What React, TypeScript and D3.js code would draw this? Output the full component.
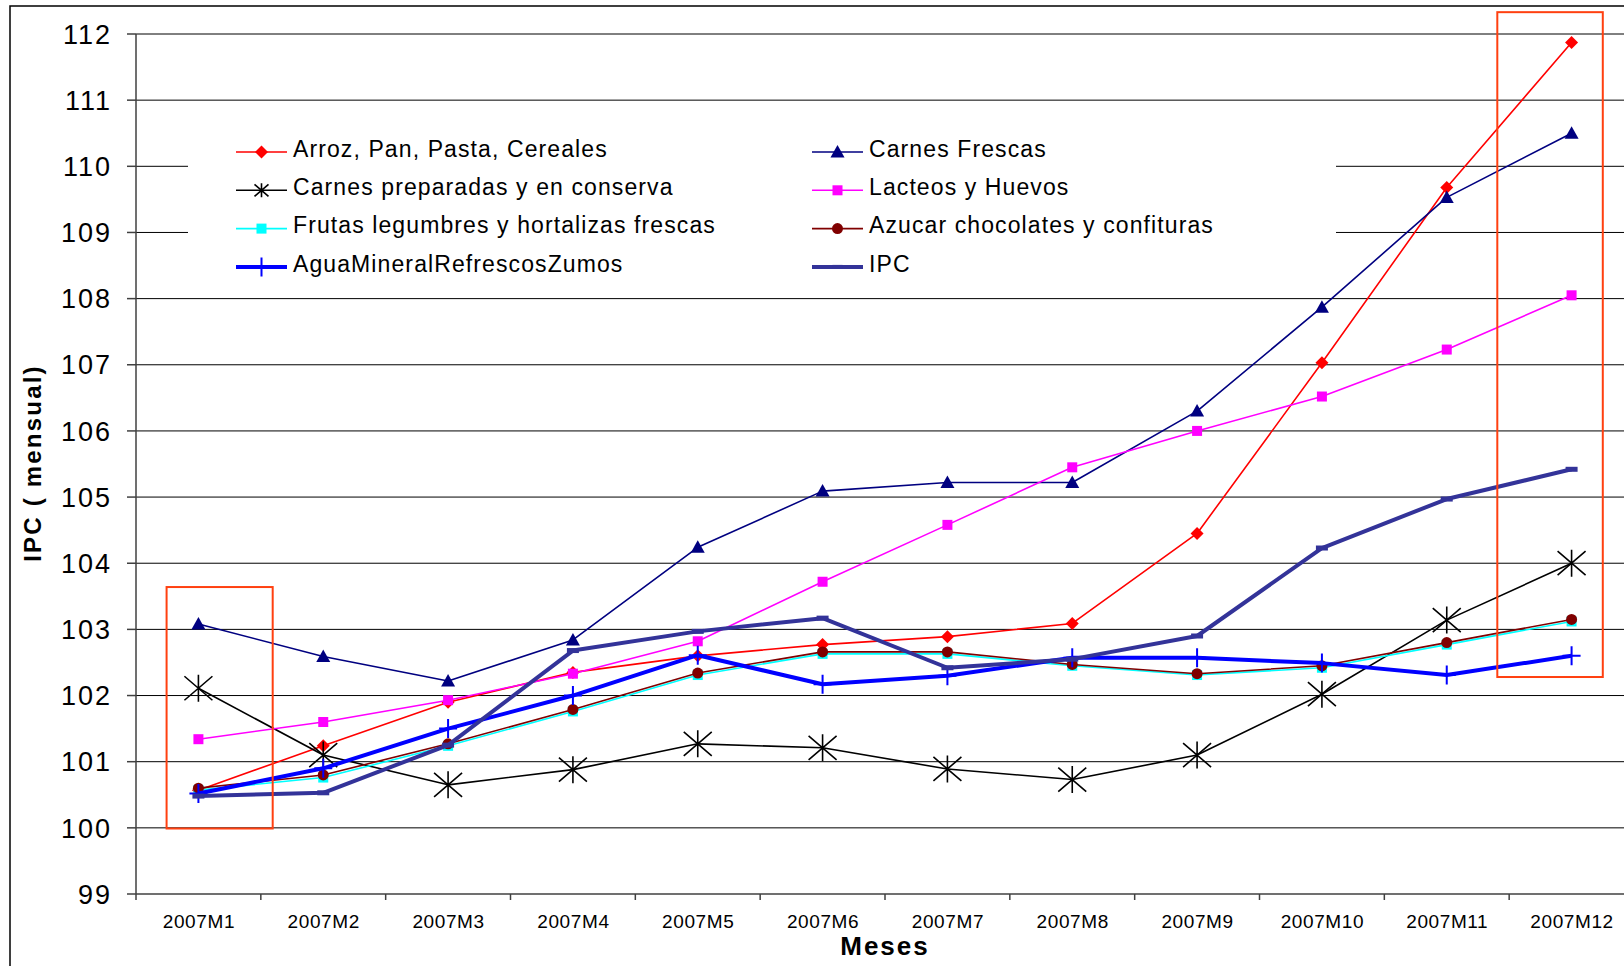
import React, { useEffect, useRef } from 'react'
import * as d3 from 'd3';

const WIDTH = 1624;
const HEIGHT = 966;
// plot area (the right edge runs past the picture, as in the original)
const PLOT = { left: 136, right: 1634, top: 34, bottom: 894 };
const FONT = "'Liberation Sans', Arial, sans-serif";

const months = ['2007M1', '2007M2', '2007M3', '2007M4', '2007M5', '2007M6',
  '2007M7', '2007M8', '2007M9', '2007M10', '2007M11', '2007M12'];
const yTicks = [99, 100, 101, 102, 103, 104, 105, 106, 107, 108, 109, 110, 111, 112];

const arroz = [100.57, 101.24, 101.9, 102.35, 102.6, 102.77, 102.89, 103.09, 104.45, 107.03, 109.68, 111.87];
const carnesFrescas = [103.08, 102.59, 102.22, 102.84, 104.24, 105.09, 105.22, 105.22, 106.3, 107.87, 109.53, 110.5];
const carnesPreparadas = [102.11, 101.1, 100.65, 100.88, 101.27, 101.21, 100.89, 100.73, 101.1, 102.02, 103.14, 104.0];
const lacteos = [101.34, 101.6, 101.93, 102.33, 102.82, 103.72, 104.58, 105.45, 106.0, 106.52, 107.23, 108.05];
const frutas = [100.57, 100.76, 101.24, 101.76, 102.31, 102.63, 102.63, 102.45, 102.31, 102.42, 102.77, 103.12];
const azucar = [100.6, 100.8, 101.27, 101.79, 102.34, 102.66, 102.66, 102.47, 102.33, 102.45, 102.8, 103.15];
const agua = [100.52, 100.9, 101.5, 102.0, 102.61, 102.17, 102.3, 102.57, 102.57, 102.49, 102.31, 102.6];
const ipc = [100.48, 100.53, 101.25, 102.68, 102.97, 103.17, 102.42, 102.55, 102.9, 104.23, 104.97, 105.42];

const series = [
  { name: 'Arroz, Pan, Pasta, Cereales', values: arroz, color: '#ff0000', width: 1.6, marker: 'diamond' },
  { name: 'Carnes Frescas', values: carnesFrescas, color: '#000080', width: 1.6, marker: 'triangle' },
  { name: 'Carnes preparadas y en conserva', values: carnesPreparadas, color: '#000000', width: 1.6, marker: 'asterisk' },
  { name: 'Lacteos y Huevos', values: lacteos, color: '#ff00ff', width: 1.6, marker: 'square' },
  { name: 'Frutas legumbres y hortalizas frescas', values: frutas, color: '#00ffff', width: 1.6, marker: 'square' },
  { name: 'Azucar chocolates y confituras', values: azucar, color: '#800000', width: 1.6, marker: 'circle' },
  { name: 'AguaMineralRefrescosZumos', values: agua, color: '#0000ff', width: 4, marker: 'plus' },
  { name: 'IPC', values: ipc, color: '#333399', width: 4, marker: 'dash' },
];

// draws one marker centred on 0,0 inside g
function drawMarker(g, type, color) {
  if (type === 'diamond') {
    g.append('path').attr('d', 'M0,-6.5L6.5,0L0,6.5L-6.5,0Z').attr('fill', color);
  } else if (type === 'triangle') {
    g.append('path').attr('d', 'M0,-7L7,5.5L-7,5.5Z').attr('fill', color);
  } else if (type === 'square') {
    g.append('rect').attr('x', -5).attr('y', -5).attr('width', 10).attr('height', 10).attr('fill', color);
  } else if (type === 'circle') {
    g.append('circle').attr('r', 5.5).attr('fill', color);
  } else if (type === 'asterisk') {
    g.append('path')
      .attr('d', 'M0,-13.5L0,13.5M-14,-12L14,12M-14,12L14,-12')
      .attr('stroke', color).attr('stroke-width', 1.6).attr('fill', 'none');
  } else if (type === 'plus') {
    g.append('path')
      .attr('d', 'M0,-9.5L0,9.5M-9,0L9,0')
      .attr('stroke', color).attr('stroke-width', 2).attr('fill', 'none');
  } else if (type === 'dash') {
    g.append('rect').attr('x', -6).attr('y', -2.5).attr('width', 12).attr('height', 5).attr('fill', color);
  }
}

const PriceChart = () => {
  const svgRef = useRef<SVGSVGElement>(null);

  useEffect(() => {
    const x = d3.scaleBand().domain(months).range([PLOT.left, PLOT.right]);
    const y = d3.scaleLinear().domain([99, 112]).range([PLOT.bottom, PLOT.top]);
    const bw = x.bandwidth();
    const cx = m => x(m) + bw / 2;

    const svg = d3.select(svgRef.current);
    svg.selectAll('*').remove();
    svg.style('font-family', FONT);

    // outer frame
    svg.append('rect')
      .attr('x', 10).attr('y', 6).attr('width', WIDTH).attr('height', HEIGHT)
      .attr('fill', 'none').attr('stroke', '#000').attr('stroke-width', 1.5);

    // gridlines
    svg.append('g')
      .selectAll('line')
      .data(yTicks.slice(1))
      .join('line')
        .attr('x1', PLOT.left).attr('x2', PLOT.right)
        .attr('y1', d => y(d)).attr('y2', d => y(d))
        .attr('stroke', '#000').attr('stroke-width', 1);

    // y axis
    const yAxis = svg.append('g');
    yAxis.append('line')
      .attr('x1', PLOT.left).attr('x2', PLOT.left)
      .attr('y1', PLOT.top).attr('y2', PLOT.bottom)
      .attr('stroke', '#404040').attr('stroke-width', 1.5);
    yAxis.selectAll('line.tick')
      .data(yTicks)
      .join('line')
        .attr('class', 'tick')
        .attr('x1', PLOT.left - 9).attr('x2', PLOT.left)
        .attr('y1', d => y(d)).attr('y2', d => y(d))
        .attr('stroke', '#404040').attr('stroke-width', 1.5);
    yAxis.selectAll('text')
      .data(yTicks)
      .join('text')
        .attr('x', 112).attr('y', d => y(d))
        .attr('dy', '0.36em')
        .attr('text-anchor', 'end')
        .style('font-size', '27px')
        .style('letter-spacing', '2px')
        .attr('fill', '#000')
        .text(d => d);

    // x axis
    const xAxis = svg.append('g');
    xAxis.append('line')
      .attr('x1', PLOT.left).attr('x2', PLOT.right)
      .attr('y1', PLOT.bottom).attr('y2', PLOT.bottom)
      .attr('stroke', '#404040').attr('stroke-width', 1.5);
    xAxis.selectAll('line.tick')
      .data(months)
      .join('line')
        .attr('class', 'tick')
        .attr('x1', d => x(d)).attr('x2', d => x(d))
        .attr('y1', PLOT.bottom).attr('y2', PLOT.bottom + 6)
        .attr('stroke', '#404040').attr('stroke-width', 1.5);
    xAxis.selectAll('text')
      .data(months)
      .join('text')
        .attr('x', d => cx(d) + 0.5).attr('y', 928)
        .attr('text-anchor', 'middle')
        .style('font-size', '19px')
        .style('letter-spacing', '0.6px')
        .attr('fill', '#000')
        .text(d => d);

    // axis titles
    svg.append('text')
      .attr('transform', 'translate(41,463) rotate(-90)')
      .attr('text-anchor', 'middle')
      .style('font-size', '24px').style('font-weight', 'bold')
      .style('letter-spacing', '2.2px')
      .text('IPC ( mensual)');
    svg.append('text')
      .attr('x', 885).attr('y', 955)
      .attr('text-anchor', 'middle')
      .style('font-size', '26px').style('font-weight', 'bold')
      .style('letter-spacing', '2px')
      .text('Meses');

    // legend box covers gridlines behind it
    const legend = svg.append('g');
    legend.append('rect')
      .attr('x', 188).attr('y', 112).attr('width', 1148).attr('height', 177)
      .attr('fill', '#fff');

    // series
    const line = d3.line<number>()
      .x((d, i) => cx(months[i]))
      .y(d => y(d));

    series.forEach(s => {
      const g = svg.append('g');
      g.append('path')
        .datum(s.values)
        .attr('d', line)
        .attr('fill', 'none')
        .attr('stroke', s.color)
        .attr('stroke-width', s.width)
        .attr('stroke-linejoin', 'round');
      s.values.forEach((v, i) => {
        drawMarker(g.append('g').attr('transform', `translate(${cx(months[i])},${y(v)})`), s.marker, s.color);
      });
    });

    // legend entries, two columns, row-wise
    series.forEach((s, i) => {
      const col = i % 2;
      const row = Math.floor(i / 2);
      const lx = col === 0 ? 236 : 812;
      const ly = 152 + row * 38.3;
      const item = legend.append('g').attr('transform', `translate(${lx},${ly})`);
      item.append('line')
        .attr('x1', 0).attr('x2', 51).attr('y1', 0).attr('y2', 0)
        .attr('stroke', s.color).attr('stroke-width', s.width);
      const mg = item.append('g').attr('transform', 'translate(25.5,0)');
      if (s.marker === 'asterisk') {
        mg.append('path')
          .attr('d', 'M0,-7L0,7M-7,-6L7,6M-7,6L7,-6')
          .attr('stroke', s.color).attr('stroke-width', 1.6);
      } else if (s.marker === 'dash') {
        mg.append('rect').attr('x', -5).attr('y', -2).attr('width', 10).attr('height', 4).attr('fill', s.color);
      } else {
        drawMarker(mg, s.marker, s.color);
      }
      item.append('text')
        .attr('x', 57).attr('y', 0).attr('dy', '0.2em')
        .style('font-size', '23px')
        .style('letter-spacing', '1.1px')
        .attr('fill', '#000')
        .text(s.name);
    });

    // highlight boxes
    const boxes = [
      { month: '2007M1', left: -0.255, right: 0.595, top: 103.64, bottom: 99.99 },
      { month: '2007M12', left: -0.595, right: 0.25, top: 112.33, bottom: 102.28 },
    ];
    svg.append('g')
      .selectAll('rect')
      .data(boxes)
      .join('rect')
        .attr('x', d => cx(d.month) + d.left * bw)
        .attr('y', d => y(d.top))
        .attr('width', d => (d.right - d.left) * bw)
        .attr('height', d => y(d.bottom) - y(d.top))
        .attr('fill', 'none')
        .attr('stroke', '#ff4010')
        .attr('stroke-width', 2);
  }, []);

  return (
    <svg
      width={WIDTH}
      height={HEIGHT}
      ref={svgRef}
      style={{ position: 'absolute', left: 0, top: 0, display: 'block', background: '#fff' }}
    />
  );
}

export default function App() {
  return <PriceChart />;
}
